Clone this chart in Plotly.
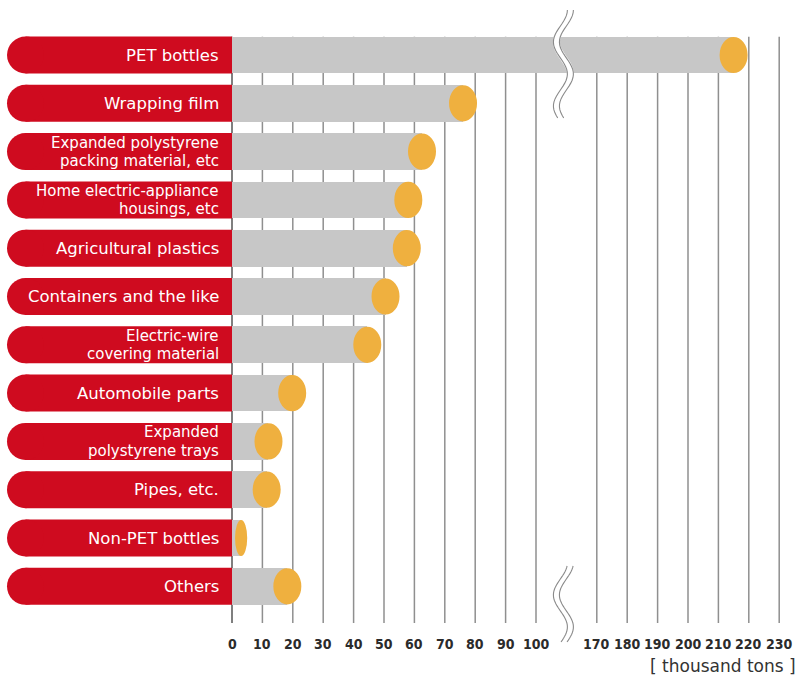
import math
import plotly.graph_objects as go

# ---- data -------------------------------------------------------------
categories = [
    "PET bottles",
    "Wrapping film",
    "Expanded polystyrene|packing material, etc",
    "Home electric-appliance|housings, etc",
    "Agricultural plastics",
    "Containers and the like",
    "Electric-wire|covering material",
    "Automobile parts",
    "Expanded|polystyrene trays",
    "Pipes, etc.",
    "Non-PET bottles",
    "Others",
]
amounts = [215, 76, 62.5, 58, 57.5, 50.5, 44.5, 19.8, 12, 11.4, 3, 18.2]  # thousand tons
tick_values = [0, 10, 20, 30, 40, 50, 60, 70, 80, 90, 100,
               170, 180, 190, 200, 210, 220, 230]
tick_labels = [str(v) for v in tick_values]
unit_label = "[ thousand tons ]"

# ---- styling ----------------------------------------------------------
W, H = 809, 686
RED = "#cf0b1f"
BAR_GRAY = "#c7c7c7"
ORANGE = "#efb03f"
GRID = "#8f8f8f"

# axis break: everything above the break is pulled left by 50 units
BREAK_LO, BREAK_HI, BREAK_SHIFT = 100, 170, 50
BREAK_POS = 110  # drawn position of the break marks (axis units)


def squeeze(v):
    return v if v <= BREAK_LO else v - BREAK_SHIFT


# pixel geometry of the axes
X0_PX, X_SCALE = 232, 3.04      # px of value 0, px per unit
Y0_PX, Y_SCALE = 55, 48.3       # px of first row centre, px per row


def px_x(dx):
    return dx / X_SCALE


def row_of_px(py):
    return (py - Y0_PX) / Y_SCALE


def val_of_px(px):
    return (px - X0_PX) / X_SCALE


rows = list(range(len(categories)))
pos = [squeeze(v) for v in amounts]

fig = go.Figure()

# grey bars
fig.add_trace(go.Bar(
    x=pos, y=rows, base=0, orientation="h", width=0.76,
    marker=dict(color=BAR_GRAY, line=dict(width=0)),
    hoverinfo="skip", showlegend=False,
))

shapes = []
annotations = []

# vertical gridlines
grid_top = -0.38
grid_bot = row_of_px(623)
for v in tick_values:
    shapes.append(dict(
        type="line", xref="x", yref="y", layer="below",
        x0=squeeze(v), x1=squeeze(v), y0=grid_top, y1=grid_bot,
        line=dict(color="#555555" if v == 0 else GRID, width=1.5),
    ))

# red pill-shaped category labels
half_h = 0.383
left = val_of_px(7)
r_units = px_x(18.5)
label_family = "DejaVu Sans, Liberation Sans, Arial, sans-serif"
for i, name in enumerate(categories):
    shapes.append(dict(type="rect", xref="x", yref="y", layer="above",
                       x0=left + r_units, x1=0, y0=i - half_h, y1=i + half_h,
                       fillcolor=RED, line=dict(width=0)))
    shapes.append(dict(type="circle", xref="x", yref="y", layer="above",
                       x0=left, x1=left + 2 * r_units, y0=i - half_h, y1=i + half_h,
                       fillcolor=RED, line=dict(width=0)))
    lines = name.split("|")
    if len(lines) == 1:
        annotations.append(dict(x=val_of_px(221), y=i, xref="x", yref="y",
                                text=lines[0], showarrow=False, xanchor="right",
                                yanchor="middle",
                                font=dict(family=label_family, size=16.5, color="white")))
    else:
        for txt, shift in zip(lines, (9, -9.5)):
            annotations.append(dict(x=val_of_px(221), y=i, xref="x", yref="y",
                                    text=txt, showarrow=False, xanchor="right",
                                    yanchor="middle", yshift=shift,
                                    font=dict(family=label_family, size=15, color="white")))

# orange end caps
rx = px_x(14)
ry = 0.375
for i, p in enumerate(pos):
    r = min(rx, p - 1)
    shapes.append(dict(type="circle", xref="x", yref="y", layer="above",
                       x0=p - r, x1=p + r, y0=i - ry, y1=i + ry,
                       fillcolor=ORANGE, line=dict(width=0)))


# axis-break marks: white gap bounded by two wavy grey lines
def wave_path(y_top_px, y_bot_px, dx_px, phase):
    pts = []
    n = 40
    for k in range(n + 1):
        ypx = y_top_px + (y_bot_px - y_top_px) * k / n
        xpx = 7 * math.cos(math.pi * (ypx - y_top_px) / 32 + phase) + dx_px
        pts.append((BREAK_POS + px_x(xpx - 3), row_of_px(ypx)))
    return "M" + " L".join(f"{x:.4f},{y:.4f}" for x, y in pts)


for (yt, yb, ph) in [(10, 118, 0.0), (566, 642, 0.3)]:
    shapes.append(dict(type="path", xref="x", yref="y", layer="above",
                       path=wave_path(yt, yb, 0, ph),
                       line=dict(color="white", width=7)))
    for dx in (-3, 3):
        shapes.append(dict(type="path", xref="x", yref="y", layer="above",
                           path=wave_path(yt, yb, dx, ph),
                           line=dict(color="#8a8a8a", width=1.1)))

# tick labels
tick_font = dict(family="DejaVu Sans Condensed, Liberation Sans Narrow, Arial Narrow, sans-serif",
                 size=14, color="#2b2b2b", weight="bold")
for v, lab in zip(tick_values, tick_labels):
    annotations.append(dict(x=squeeze(v), y=row_of_px(644), xref="x", yref="y",
                            text=lab, showarrow=False, xanchor="center",
                            yanchor="middle", font=tick_font))

annotations.append(dict(x=722.5 / W, y=1 - 666 / H, xref="paper", yref="paper",
                        text=unit_label, showarrow=False, xanchor="center",
                        yanchor="middle",
                        font=dict(family="DejaVu Sans, Liberation Sans, Arial, sans-serif",
                                  size=17, color="#333333")))

fig.update_layout(
    width=W, height=H,
    margin=dict(l=0, r=0, t=0, b=0),
    paper_bgcolor="white", plot_bgcolor="white",
    xaxis=dict(range=[val_of_px(0), val_of_px(W)], visible=False, fixedrange=True),
    yaxis=dict(range=[row_of_px(H), row_of_px(0)], visible=False, fixedrange=True),
    shapes=shapes, annotations=annotations,
    bargap=0, showlegend=False,
)

fig.write_html("out.html")
